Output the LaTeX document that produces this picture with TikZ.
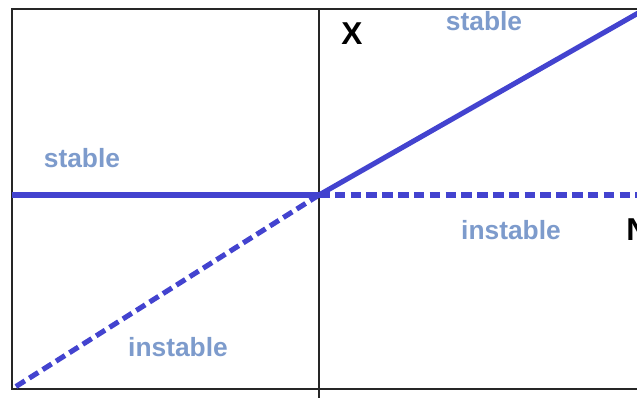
\documentclass[tikz,border=0pt]{standalone}
\usepackage{fontspec}
\setmainfont{Liberation Sans}
\definecolor{branchblue}{HTML}{4343CF}
\definecolor{labelblue}{HTML}{7D9BCC}
\begin{document}
\begin{tikzpicture}[x=0.2mm, y=-0.2mm,
    frame/.style={line width=1.1pt, black!85},
    branch/.style={line width=2.9pt, branchblue},
    unstable/.style={branch, dash pattern=on 6pt off 3pt},
    lbl/.style={font=\fontsize{15}{17}\selectfont\bfseries, text=labelblue, inner sep=0pt},
    axlbl/.style={font=\fontsize{18}{20}\selectfont\bfseries, inner sep=0pt}]
    \useasboundingbox (0,0) rectangle (637,397);
    \clip (0,0) rectangle (637,397);

    % --- Frame and axis ---
    \coordinate (tl) at (12,9);
    \coordinate (bl) at (12,389);
    \coordinate (tr) at (640,9);
    \coordinate (br) at (640,389);
    \coordinate (axtop) at (319,9);
    \coordinate (axbot) at (319,400);
    \draw[frame] (tr) -- (tl) -- (bl) -- (br);
    \draw[frame] (axtop) -- (axbot);

    % --- Branches ---
    \coordinate (O) at (319,195);
    \coordinate (left) at (12,195);
    \coordinate (right) at (640,195);
    \coordinate (up) at (640,12);
    \coordinate (down) at (12,389);
    \draw[branch] (left) -- (O);
    \draw[branch] (O) -- (up);
    \draw[unstable] (O) -- (right);
    \draw[unstable] (O) -- (down);

    % --- Labels ---
    \node[lbl] (stabL) at (82,158) {stable};
    \node[lbl] (stabR) at (484,21) {stable};
    \node[lbl] (instR) at (511,230) {instable};
    \node[lbl] (instL) at (178,347) {instable};
    \node[axlbl] (xlab) at (352,34) {X};
    \node[axlbl, anchor=west] (nlab) at (626,230) {N};
\end{tikzpicture}
\end{document}
